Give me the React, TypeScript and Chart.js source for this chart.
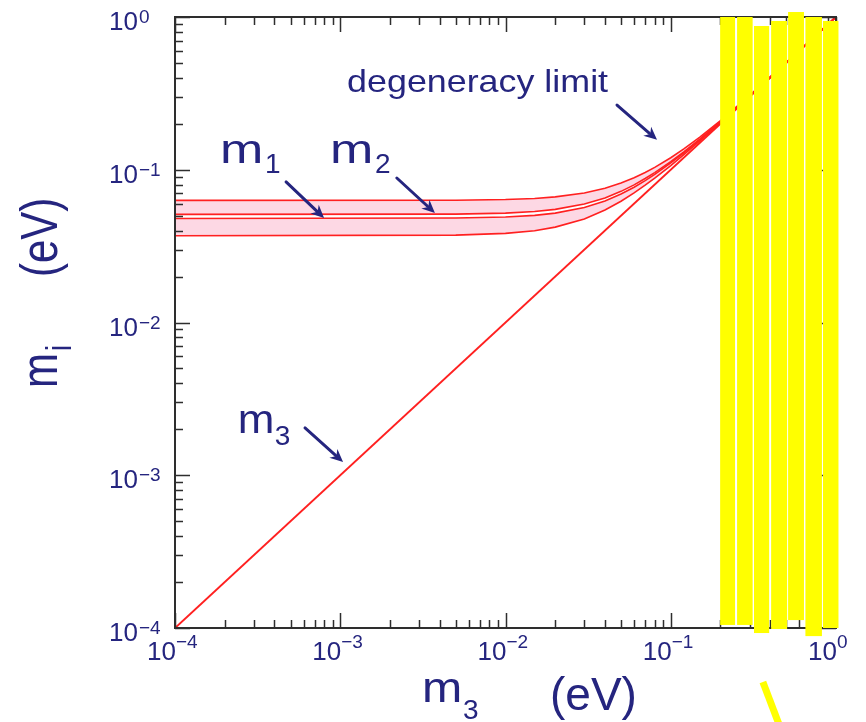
import React, { useEffect, useRef } from 'react';
import { Chart, registerables } from 'chart.js';
Chart.register(...registerables);

// ---- data ----
const BAND_X = [1e-4, 0.005, 0.01, 0.015, 0.02, 0.03, 0.04, 0.05, 0.06, 0.07, 0.08, 0.1, 0.12, 0.15, 0.2, 0.3, 0.5, 0.7, 1.0];
const M2_UPPER = [0.063, 0.0632, 0.0638, 0.0649, 0.0664, 0.0704, 0.0756, 0.0818, 0.0886, 0.096, 0.1036, 0.1198, 0.1368, 0.1636, 0.21, 0.3065, 0.504, 0.703, 1.002];
const M2_LOWER = [0.051, 0.0512, 0.052, 0.0533, 0.055, 0.0596, 0.0654, 0.0722, 0.0796, 0.0876, 0.0958, 0.113, 0.131, 0.1588, 0.2066, 0.3043, 0.5026, 0.7019, 1.0013];
const M1_UPPER = [0.048, 0.0483, 0.049, 0.0503, 0.052, 0.0566, 0.0625, 0.0693, 0.0768, 0.0849, 0.0933, 0.1109, 0.1292, 0.1575, 0.2057, 0.3038, 0.5023, 0.7016, 1.0012];
const M1_LOWER = [0.037, 0.0373, 0.0383, 0.0399, 0.0421, 0.0476, 0.0545, 0.0622, 0.0705, 0.0792, 0.0881, 0.1066, 0.1256, 0.1545, 0.2034, 0.3023, 0.5014, 0.701, 1.0007];
const M3_X = [1e-4, 1];
const M3_Y = [1e-4, 1];

// axis decades and tick label exponents
const DECADES = [1e-4, 1e-3, 1e-2, 1e-1, 1];
const EXPONENTS = ['\u22124', '\u22123', '\u22122', '\u22121', '0'];

// annotations (data coordinates)
const ANNOT_TEXT = ['m', 'm', 'm', 'degeneracy limit'];
const ANNOT_SUB = ['1', '2', '3', ''];
const ANNOT_X = [1.87e-4, 8.67e-4, 2.4e-4, 1.1e-3];
const ANNOT_Y = [0.1107, 0.1107, 1.89e-3, 0.323];
const ARROW_X0 = [4.7e-4, 2.2e-3, 6.12e-4, 0.0473];
const ARROW_Y0 = [0.0832, 0.0883, 2.04e-3, 0.265];
const ARROW_X1 = [7.98e-4, 3.74e-3, 1.04e-3, 0.0826];
const ARROW_Y1 = [0.0483, 0.0521, 1.22e-3, 0.157];

// yellow overlay blocks (data coordinates)
const YELLOW_X0 = [0.199, 0.252, 0.319, 0.405, 0.513, 0.653, 0.834];
const YELLOW_X1 = [0.245, 0.313, 0.394, 0.506, 0.64, 0.822, 1.035];
const YELLOW_TOP = [1.0, 1.0, 0.873, 0.942, 1.078, 1.0, 0.942];
const YELLOW_BOTTOM = [1.047e-4, 1.047e-4, 0.927e-4, 0.985e-4, 1.127e-4, 0.885e-4, 1e-4];
const YELLOW_STROKE_X = [0.361, 0.491];
const YELLOW_STROKE_Y = [4.43e-5, 1.85e-5];

// ---- styles ----
const RED = '#ff2020';
const PINK = '#fdd8e4';
const NAVY = '#25257f';
const AXIS = '#2e2e2e';
const YELLOW = '#ffff00';
const FONT = (s: number) => `${s}px "Liberation Sans", Arial, Helvetica, sans-serif`;
const ANNOT_STYLE = [
  { size: 40, sx: 1.3, subSize: 28, subDx: 45, subDy: 10 },
  { size: 40, sx: 1.3, subSize: 28, subDx: 45, subDy: 10 },
  { size: 40, sx: 1.1, subSize: 28, subDx: 37, subDy: 12 },
  { size: 32, sx: 1.12, subSize: 0, subDx: 0, subDy: 0 },
];

const pts = (xs: number[], ys: number[]) => xs.map((x, i) => ({ x, y: ys[i] }));

function text(ctx: CanvasRenderingContext2D, s: string, x: number, y: number, size: number, sx = 1, align: CanvasTextAlign = 'left') {
  ctx.save();
  ctx.translate(x, y);
  ctx.scale(sx, 1);
  ctx.font = FONT(size);
  ctx.textAlign = align;
  ctx.textBaseline = 'alphabetic';
  ctx.fillText(s, 0, 0);
  ctx.restore();
}

function arrow(ctx: CanvasRenderingContext2D, x0: number, y0: number, x1: number, y1: number) {
  const ang = Math.atan2(y1 - y0, x1 - x0);
  const L = 13, W = 6;
  ctx.save();
  ctx.strokeStyle = NAVY;
  ctx.fillStyle = NAVY;
  ctx.lineWidth = 3;
  ctx.lineCap = 'round';
  ctx.beginPath();
  ctx.moveTo(x0, y0);
  ctx.lineTo(x1 - Math.cos(ang) * (L - 3), y1 - Math.sin(ang) * (L - 3));
  ctx.stroke();
  ctx.translate(x1, y1);
  ctx.rotate(ang);
  ctx.beginPath();
  ctx.moveTo(0, 0);
  ctx.lineTo(-L, -W);
  ctx.lineTo(-L + 4, 0);
  ctx.lineTo(-L, W);
  ctx.closePath();
  ctx.fill();
  ctx.restore();
}

const overlay = {
  id: 'overlay',
  afterDraw(chart: any) {
    const { ctx, chartArea: a } = chart;
    const xs = chart.scales.x, ys = chart.scales.y;
    ctx.save();

    // frame
    ctx.strokeStyle = AXIS;
    ctx.lineWidth = 2;
    ctx.strokeRect(a.left, a.top, a.right - a.left, a.bottom - a.top);

    // ticks (inward, all four sides)
    ctx.lineWidth = 1.5;
    ctx.beginPath();
    DECADES.forEach((d, di) => {
      const ms = di === DECADES.length - 1 ? [1] : [1, 2, 3, 4, 5, 6, 7, 8, 9];
      ms.forEach((m) => {
        const v = m * d;
        const len = m === 1 ? 15 : 8;
        const px = Math.round(xs.getPixelForValue(v)) + 0.5;
        const py = Math.round(ys.getPixelForValue(v)) + 0.5;
        ctx.moveTo(px, a.bottom); ctx.lineTo(px, a.bottom - len);
        ctx.moveTo(px, a.top); ctx.lineTo(px, a.top + len);
        ctx.moveTo(a.left, py); ctx.lineTo(a.left + len, py);
        ctx.moveTo(a.right, py); ctx.lineTo(a.right - len, py);
      });
    });
    ctx.stroke();

    // tick labels
    ctx.fillStyle = NAVY;
    DECADES.forEach((d, i) => {
      const py = ys.getPixelForValue(d);
      ctx.font = FONT(26);
      const w = ctx.measureText('10').width;
      text(ctx, '10', a.left - 66, py + 13, 26);
      text(ctx, EXPONENTS[i], a.left - 66 + w + 1, py + 6, 19);
      const px = xs.getPixelForValue(d);
      text(ctx, '10', px + 1, a.bottom + 32, 26, 1, 'right');
      text(ctx, EXPONENTS[i], px + 1, a.bottom + 20, 19);
    });

    // bottom axis title
    text(ctx, 'm', 422, 702, 42, 1.15);
    text(ctx, '3', 463, 719, 28);
    text(ctx, '(eV)', 550, 710, 46);

    // left axis title (rotated)
    ctx.save();
    ctx.translate(57, 388);
    ctx.scale(1.25, 1);
    ctx.rotate(-Math.PI / 2);
    ctx.font = FONT(42);
    ctx.textBaseline = 'alphabetic';
    ctx.fillText('m', 0, 0);
    ctx.font = FONT(28);
    ctx.fillText('i', 37, 11);
    ctx.font = FONT(42);
    ctx.fillText('(eV)', 111, 0);
    ctx.restore();

    // annotations
    ANNOT_TEXT.forEach((t, i) => {
      const st = ANNOT_STYLE[i];
      const px = xs.getPixelForValue(ANNOT_X[i]);
      const py = ys.getPixelForValue(ANNOT_Y[i]);
      ctx.fillStyle = NAVY;
      text(ctx, t, px, py, st.size, st.sx);
      if (ANNOT_SUB[i]) text(ctx, ANNOT_SUB[i], px + st.subDx, py + st.subDy, st.subSize);
      arrow(
        ctx,
        xs.getPixelForValue(ARROW_X0[i]), ys.getPixelForValue(ARROW_Y0[i]),
        xs.getPixelForValue(ARROW_X1[i]), ys.getPixelForValue(ARROW_Y1[i])
      );
    });

    // yellow overlay blocks
    ctx.fillStyle = YELLOW;
    YELLOW_X0.forEach((x0, i) => {
      const l = xs.getPixelForValue(x0);
      const r = xs.getPixelForValue(YELLOW_X1[i]);
      const t = ys.getPixelForValue(YELLOW_TOP[i]);
      const b = ys.getPixelForValue(YELLOW_BOTTOM[i]);
      ctx.fillRect(l, t, r - l, b - t);
    });
    ctx.strokeStyle = YELLOW;
    ctx.lineWidth = 7;
    ctx.lineCap = 'butt';
    ctx.beginPath();
    ctx.moveTo(xs.getPixelForValue(YELLOW_STROKE_X[0]), ys.getPixelForValue(YELLOW_STROKE_Y[0]));
    ctx.lineTo(xs.getPixelForValue(YELLOW_STROKE_X[1]), ys.getPixelForValue(YELLOW_STROKE_Y[1]));
    ctx.stroke();

    ctx.restore();
  },
};

export default function App() {
  const ref = useRef<HTMLCanvasElement | null>(null);
  useEffect(() => {
    if (!ref.current) return;
    const line = (data: any, extra: any = {}) => ({
      data,
      borderColor: RED,
      borderWidth: 1.6,
      pointRadius: 0,
      tension: 0,
      fill: false,
      ...extra,
    });
    const chart = new Chart(ref.current, {
      type: 'line',
      data: {
        datasets: [
          line(pts(BAND_X, M2_UPPER), { fill: '+1', backgroundColor: PINK }),
          line(pts(BAND_X, M2_LOWER)),
          line(pts(BAND_X, M1_UPPER), { fill: '+1', backgroundColor: PINK }),
          line(pts(BAND_X, M1_LOWER)),
          line(pts(M3_X, M3_Y), { borderWidth: 2 }),
        ],
      },
      options: {
        animation: false,
        responsive: false,
        devicePixelRatio: 1,
        layout: { padding: { left: 175, top: 17, right: 30, bottom: 94 } },
        scales: {
          x: { type: 'logarithmic', min: 1e-4, max: 1, display: false },
          y: { type: 'logarithmic', min: 1e-4, max: 1, display: false },
        },
        plugins: {
          legend: { display: false },
          tooltip: { enabled: false },
          filler: { drawTime: 'beforeDatasetsDraw' },
        },
      } as any,
      plugins: [overlay],
    });
    return () => chart.destroy();
  }, []);
  return (
    <div style={{ position: 'absolute', left: 0, top: 0, width: 866, height: 722, background: '#fff' }}>
      <canvas ref={ref} width={866} height={722} style={{ display: 'block' }} />
    </div>
  );
}
